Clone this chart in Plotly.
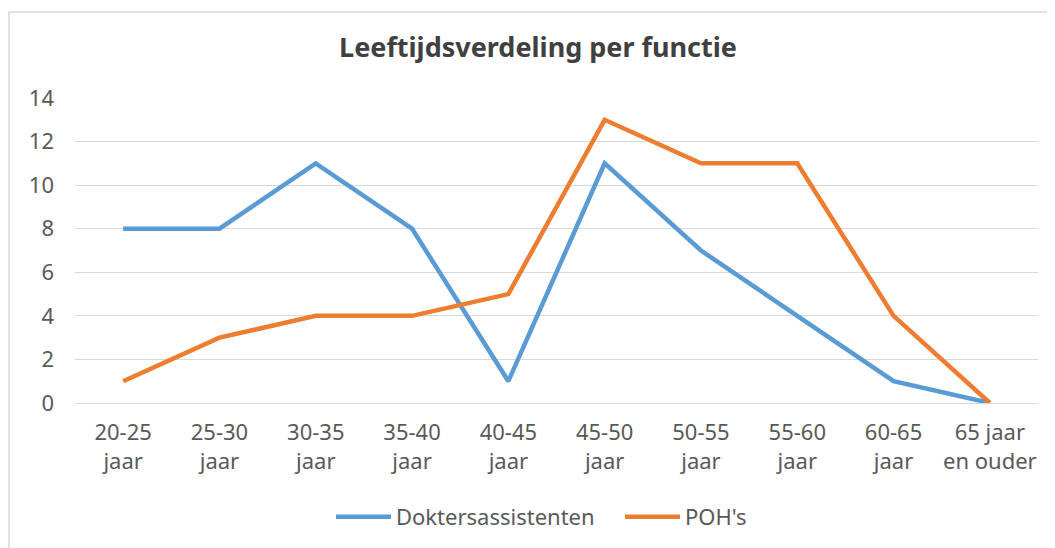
import plotly.graph_objects as go

categories = ["20-25<br>jaar", "25-30<br>jaar", "30-35<br>jaar", "35-40<br>jaar", "40-45<br>jaar",
              "45-50<br>jaar", "50-55<br>jaar", "55-60<br>jaar", "60-65<br>jaar", "65 jaar<br>en ouder"]
doktersassistenten = [8, 8, 11, 8, 1, 11, 7, 4, 1, 0]
pohs = [1, 3, 4, 4, 5, 13, 11, 11, 4, 0]

W, H = 1055, 548
OFF = 8  # page body margin
L, R, T, B = 75 - OFF, 1038 - OFF, 98 - OFF, 403 - OFF  # plot area in figure pixels
FONT = "Noto Sans"
TXT = "#595959"


def px_x(p):
    return (p - OFF - L) / (R - L)


def px_y(p):
    return (B - (p - OFF)) / (B - T)


fig = go.Figure()
fig.add_trace(go.Scatter(x=categories, y=doktersassistenten, mode="lines", name="Doktersassistenten",
                         line=dict(color="#5B9BD5", width=4.5)))
fig.add_trace(go.Scatter(x=categories, y=pohs, mode="lines", name="POH's",
                         line=dict(color="#ED7D31", width=4.5)))

# chart border
fig.add_shape(type="rect", xref="paper", yref="paper",
              x0=px_x(9), x1=px_x(1075), y0=px_y(580), y1=px_y(12),
              line=dict(color="#d9d9d9", width=1.5), layer="below")

fig.update_layout(
    width=W, height=H,
    margin=dict(l=L, r=W - R, t=T, b=H - B),
    paper_bgcolor="white", plot_bgcolor="white",
    font=dict(family=FONT, color=TXT, size=22),
    title=dict(text="<b>Leeftijdsverdeling per functie</b>", xref="container", yref="container",
               x=(538 - OFF) / W, y=1 - (48 - OFF) / H, xanchor="center", yanchor="middle",
               font=dict(family=FONT, size=27, color="#404040")),
    showlegend=True,
    legend=dict(orientation="h", xanchor="left", yanchor="middle", itemwidth=55,
                entrywidth=219, entrywidthmode="pixels",
                x=px_x(331), y=px_y(517), font=dict(size=22, color=TXT)),
)
fig.update_xaxes(type="category", range=[-0.5, 9.5], showgrid=False, showline=True,
                 linecolor="#d9d9d9", linewidth=1, ticks="", tickfont=dict(size=22, color=TXT),
                 ticklabelstandoff=10)
fig.update_yaxes(range=[0, 14], dtick=2, showgrid=True, gridcolor="#d9d9d9", gridwidth=1,
                 zeroline=False, showline=False, ticks="", tickfont=dict(size=22, color=TXT),
                 ticklabelstandoff=20)

fig.write_html("out.html")
